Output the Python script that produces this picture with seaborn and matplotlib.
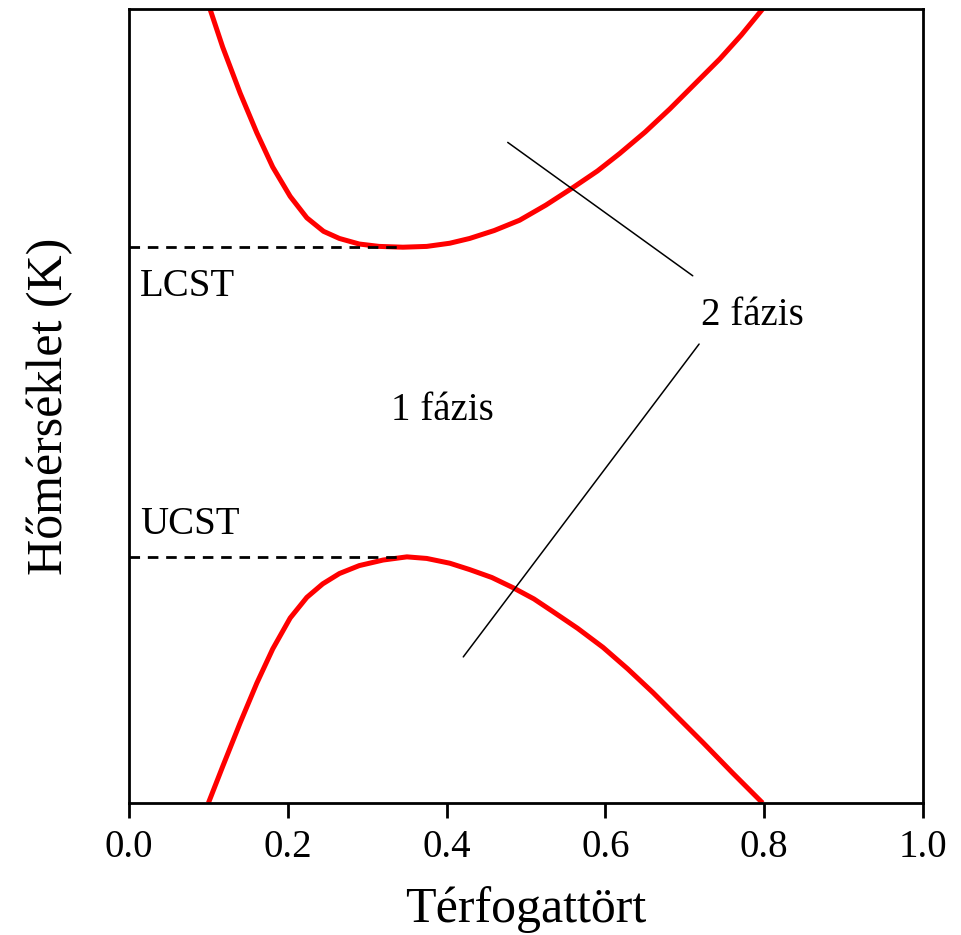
"""
Phase diagram sketch: LCST / UCST binodal curves (Hungarian labels).
"""

import pandas as pd
import matplotlib
matplotlib.use("Agg")
import matplotlib.pyplot as plt
import seaborn as sns

# upper (LCST) binodal
lcst_x = [0.102, 0.118, 0.140, 0.161, 0.181, 0.203, 0.224, 0.245, 0.265, 0.290,
          0.315, 0.345, 0.375, 0.404, 0.429, 0.460, 0.492, 0.525, 0.559, 0.590,
          0.618, 0.650, 0.681, 0.712, 0.744, 0.771, 0.798]
lcst_y = [1.000, 0.952, 0.894, 0.844, 0.801, 0.764, 0.737, 0.720, 0.711, 0.704,
          0.701, 0.700, 0.701, 0.705, 0.711, 0.721, 0.734, 0.753, 0.775, 0.796,
          0.818, 0.845, 0.874, 0.905, 0.937, 0.967, 1.000]

# lower (UCST) binodal
ucst_x = [0.100, 0.118, 0.140, 0.161, 0.181, 0.203, 0.224, 0.244, 0.265, 0.290,
          0.320, 0.350, 0.375, 0.404, 0.429, 0.457, 0.484, 0.510, 0.534, 0.565,
          0.597, 0.628, 0.660, 0.690, 0.723, 0.760, 0.798]
ucst_y = [0.000, 0.046, 0.101, 0.151, 0.194, 0.233, 0.259, 0.276, 0.289, 0.299,
          0.306, 0.310, 0.308, 0.302, 0.294, 0.284, 0.271, 0.257, 0.241, 0.220,
          0.196, 0.169, 0.139, 0.109, 0.076, 0.038, 0.000]

lcst_level = 0.700
ucst_level = 0.310
crit_x = 0.342

# pointer lines for the "2 fázis" label
pointer_upper_x = [0.477, 0.710]
pointer_upper_y = [0.832, 0.664]
pointer_lower_x = [0.421, 0.718]
pointer_lower_y = [0.184, 0.578]

xticks = [0.0, 0.2, 0.4, 0.6, 0.8, 1.0]

sns.set_style("ticks")
plt.rcParams["font.family"] = ["Liberation Serif", "DejaVu Serif"]
plt.rcParams["text.color"] = "black"
plt.rcParams["axes.labelcolor"] = "black"

fig = plt.figure(figsize=(9.61, 9.35), dpi=100)
ax = fig.add_axes([129 / 961, 1 - 803 / 935, 794 / 961, 794 / 935])

upper = pd.DataFrame({"x": lcst_x, "y": lcst_y})
lower = pd.DataFrame({"x": ucst_x, "y": ucst_y})
for curve in (upper, lower):
    sns.lineplot(data=curve, x="x", y="y", sort=False, estimator=None,
                 color="#ff0000", linewidth=3.6, ax=ax,
                 solid_joinstyle="round", solid_capstyle="butt")

# critical temperatures
for level in (lcst_level, ucst_level):
    ax.plot([0.0, crit_x], [level, level], color="black", linewidth=2.0,
            linestyle=(0, (3.8, 2.8)), zorder=3)

ax.plot(pointer_upper_x, pointer_upper_y, color="black", linewidth=1.1)
ax.plot(pointer_lower_x, pointer_lower_y, color="black", linewidth=1.1)

ax.text(0.014, 0.639, "LCST", fontsize=28, va="baseline", ha="left")
ax.text(0.014, 0.339, "UCST", fontsize=28, va="baseline", ha="left")
ax.text(0.395, 0.482, "1 fázis", fontsize=28, va="baseline", ha="center")
ax.text(0.785, 0.602, "2 fázis", fontsize=28, va="baseline", ha="center")

ax.set_xlim(0.0, 1.0)
ax.set_ylim(0.0, 1.0)
ax.set_xticks(xticks)
ax.set_xticklabels([f"{t:.1f}" for t in xticks])
ax.set_yticks([])
ax.tick_params(axis="x", direction="out", length=11, width=2, pad=8,
               labelsize=28, colors="black")

for side in ("left", "right", "top", "bottom"):
    ax.spines[side].set_visible(True)
    ax.spines[side].set_linewidth(2)
    ax.spines[side].set_color("black")

ax.set_xlabel("Térfogattört", fontsize=36)
ax.set_ylabel("Hőmérséklet (K)", fontsize=36)
ax.xaxis.set_label_coords(0.5, -0.104)
ax.yaxis.set_label_coords(-0.07, 0.5)

fig.savefig("out.png", dpi=100)
plt.close(fig)
